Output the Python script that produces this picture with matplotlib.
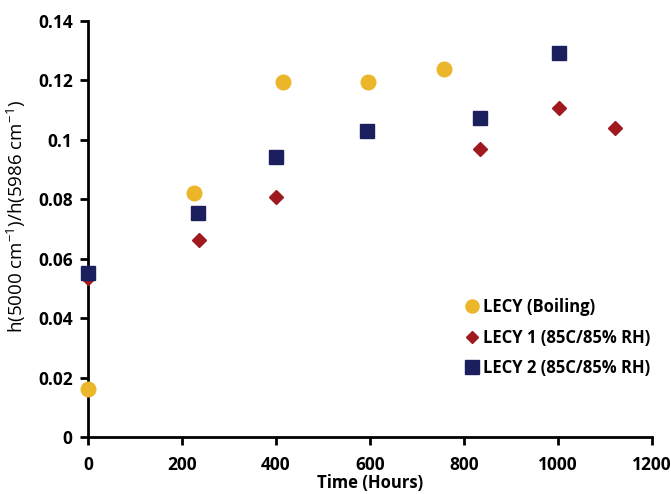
import matplotlib
matplotlib.use("Agg")
import matplotlib.pyplot as plt

plt.rcParams['font.family'] = ['Open Sans', 'DejaVu Sans']
plt.rcParams['mathtext.fontset'] = 'custom'
plt.rcParams['mathtext.rm'] = 'Open Sans'
plt.rcParams['mathtext.it'] = 'Open Sans'
plt.rcParams['mathtext.bf'] = 'Open Sans:bold'

boil_x = [0, 225, 415, 595, 757]
boil_y = [0.0162, 0.0821, 0.1196, 0.1196, 0.1237]

lecy1_x = [0, 236, 400, 834, 1002, 1122]
lecy1_y = [0.0535, 0.0664, 0.0808, 0.0970, 0.1107, 0.1040]

lecy2_x = [0, 234, 400, 594, 834, 1002]
lecy2_y = [0.0552, 0.0755, 0.0942, 0.1030, 0.1073, 0.1292]

labels = ["LECY (Boiling)", "LECY 1 (85C/85% RH)", "LECY 2 (85C/85% RH)"]

fig = plt.figure(figsize=(6.71, 4.94), dpi=100)
ax = fig.add_axes([88/671, 1-437/494, (652-88)/671, (437-21)/494])

ax.plot(boil_x, boil_y, 'o', color='#EBB62A', markersize=10.5, label=labels[0], clip_on=False, zorder=3)
ax.plot(lecy1_x, lecy1_y, 'D', color='#A0191E', markersize=7, label=labels[1], clip_on=False, zorder=3)
ax.plot(lecy2_x, lecy2_y, 's', color='#1B1F5E', markersize=10.5, label=labels[2], clip_on=False, zorder=4)

ax.set_xlim(0, 1200)
ax.set_ylim(0, 0.14)
ax.set_xticks([0, 200, 400, 600, 800, 1000, 1200])
ax.set_yticks([0, 0.02, 0.04, 0.06, 0.08, 0.1, 0.12, 0.14])
ax.set_yticklabels(['0', '0.02', '0.04', '0.06', '0.08', '0.1', '0.12', '0.14'])
for s in ['top', 'right']:
    ax.spines[s].set_visible(False)
for s in ['left', 'bottom']:
    ax.spines[s].set_linewidth(2)
ax.tick_params(axis='both', width=2, length=6, direction='out', labelsize=12.5)
ax.tick_params(axis='x', pad=8)
ax.tick_params(axis='y', pad=5)
for t in ax.get_xticklabels() + ax.get_yticklabels():
    t.set_fontweight('bold')

ax.set_xlabel('Time (Hours)', fontsize=12, fontweight='bold', labelpad=0)
ax.set_ylabel('h(5000 cm$^{-1}$)/h(5986 cm$^{-1}$)', fontsize=13.5)
ax.yaxis.set_label_coords(-0.107, 0.53)

leg = ax.legend(loc='lower right', bbox_to_anchor=(1.024, 0.108), frameon=False,
                prop={'weight': 'bold', 'size': 12}, handletextpad=0.1,
                labelspacing=0.75, handlelength=1.1, markerscale=0.9)

fig.savefig('out.png', dpi=100)
